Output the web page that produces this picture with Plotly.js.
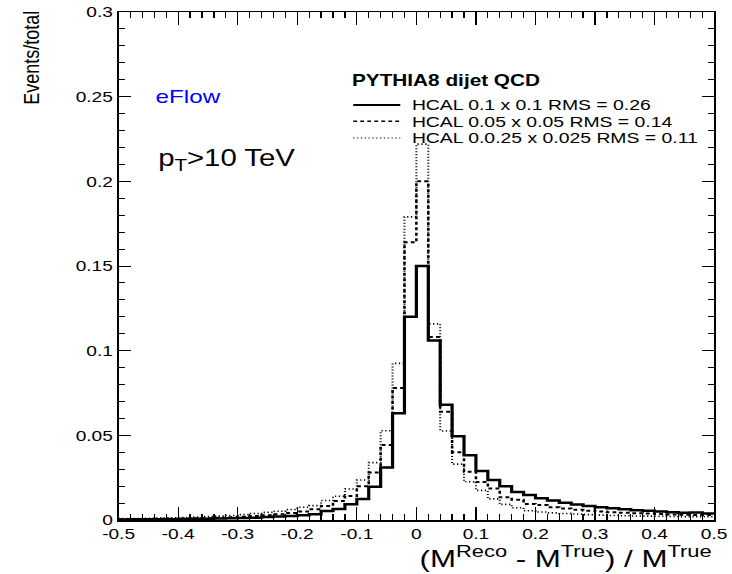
<!DOCTYPE html>
<html>
<head>
<meta charset="utf-8">
<script src="https://cdn.plot.ly/plotly-3.0.1.min.js"></script>
<style>
  html, body { margin: 0; padding: 0; background: #fff; overflow: hidden; }
  /* the canvas is laid out square and stretched horizontally to 732 px */
  #plot { width: 574px; height: 574px; transform: scaleX(1.27526); transform-origin: 0 0; }
</style>
</head>
<body>
<div id="plot"></div>
<script>
// histogram binning: 50 bins of width 0.02 between -0.5 and 0.5 (low edges)
const binLowEdges = [
  -0.50, -0.48, -0.46, -0.44, -0.42, -0.40, -0.38, -0.36, -0.34, -0.32,
  -0.30, -0.28, -0.26, -0.24, -0.22, -0.20, -0.18, -0.16, -0.14, -0.12,
  -0.10, -0.08, -0.06, -0.04, -0.02,  0.00,  0.02,  0.04,  0.06,  0.08,
   0.10,  0.12,  0.14,  0.16,  0.18,  0.20,  0.22,  0.24,  0.26,  0.28,
   0.30,  0.32,  0.34,  0.36,  0.38,  0.40,  0.42,  0.44,  0.46,  0.48
];
const binUpperEdge = 0.50;

// fraction of events per bin, HCAL 0.1 x 0.1
const hcal010 = [
  0.0003, 0.0004, 0.0004, 0.0005, 0.0005, 0.0006, 0.0007, 0.0008, 0.0009, 0.0010,
  0.0012, 0.0014, 0.0017, 0.0020, 0.0024, 0.0028, 0.0034, 0.0053, 0.0065, 0.0093,
  0.0124, 0.0197, 0.0310, 0.0630, 0.1200, 0.1500, 0.1060, 0.0680, 0.0494, 0.0382,
  0.0290, 0.0236, 0.0200, 0.0165, 0.0148, 0.0128, 0.0115, 0.0102, 0.0092, 0.0083,
  0.0075, 0.0069, 0.0063, 0.0058, 0.0054, 0.0050, 0.0046, 0.0043, 0.0045, 0.0038
];
// HCAL 0.05 x 0.05
const hcal005 = [
  0.0005, 0.0005, 0.0006, 0.0007, 0.0008, 0.0009, 0.0010, 0.0011, 0.0013, 0.0016,
  0.0019, 0.0023, 0.0028, 0.0034, 0.0041, 0.0050, 0.0063, 0.0083, 0.0112, 0.0142,
  0.0200, 0.0280, 0.0443, 0.0780, 0.1640, 0.2000, 0.1080, 0.0640, 0.0400, 0.0285,
  0.0224, 0.0186, 0.0135, 0.0120, 0.0095, 0.0088, 0.0075, 0.0068, 0.0060, 0.0055,
  0.0050, 0.0046, 0.0043, 0.0040, 0.0038, 0.0035, 0.0033, 0.0031, 0.0030, 0.0030
];
// HCAL 0.025 x 0.025
const hcal0025 = [
  0.0008, 0.0009, 0.0010, 0.0011, 0.0013, 0.0015, 0.0017, 0.0020, 0.0023, 0.0027,
  0.0032, 0.0038, 0.0045, 0.0052, 0.0062, 0.0075, 0.0085, 0.0115, 0.0140, 0.0183,
  0.0236, 0.0339, 0.0527, 0.0925, 0.1790, 0.2220, 0.1158, 0.0526, 0.0330, 0.0226,
  0.0175, 0.0125, 0.0092, 0.0072, 0.0055, 0.0047, 0.0042, 0.0038, 0.0035, 0.0032,
  0.0029, 0.0027, 0.0025, 0.0024, 0.0023, 0.0022, 0.0021, 0.0020, 0.0020, 0.0019
];

const seriesNames = [
  "HCAL 0.1 x 0.1 RMS = 0.26",
  "HCAL 0.05 x 0.05 RMS = 0.14",
  "HCAL 0.0.25 x 0.025 RMS = 0.11"
];
const seriesValues = [hcal010, hcal005, hcal0025];
const lineStyles = [
  { color: "#000", width: 2.5, dash: "solid" },
  { color: "#000", width: 2.0, dash: "3px,2.5px" },
  { color: "#000", width: 1.6, dash: "1px,2px" }
];

const legendTitle = "PYTHIA8 dijet QCD";
const xTickValues = [-0.5, -0.4, -0.3, -0.2, -0.1, 0, 0.1, 0.2, 0.3, 0.4, 0.5];
const xTickLabels = ["-0.5", "-0.4", "-0.3", "-0.2", "-0.1", "0", "0.1", "0.2", "0.3", "0.4", "0.5"];
const yTickValues = [0, 0.05, 0.1, 0.15, 0.2, 0.25, 0.3];
const yTickLabels = ["0", "0.05", "0.1", "0.15", "0.2", "0.25", "0.3"];

// step outline: every bin edge, the last bin's value repeated at the upper edge
const stepX = binLowEdges.concat([binUpperEdge]);
const traces = seriesValues.map((vals, i) => ({
  type: "scatter",
  mode: "lines",
  x: stepX,
  y: vals.concat([vals[vals.length - 1]]),
  line: Object.assign({ shape: "hv" }, lineStyles[i]),
  name: seriesNames[i],
  hoverinfo: "skip"
}));

const font = "Liberation Sans, Arial, Helvetica, sans-serif";

// hand-drawn legend block (title, line samples, labels)
const legendRowsY = [0.817, 0.785, 0.752];
const legendShapes = lineStyles.map((st, i) => ({
  type: "line", xref: "paper", yref: "paper",
  x0: 0.394, x1: 0.473, y0: legendRowsY[i], y1: legendRowsY[i],
  line: { color: st.color, width: st.width - 0.4, dash: st.dash }
}));
const legendLabels = seriesNames.map((nm, i) => ({
  xref: "paper", yref: "paper", x: 0.488, y: legendRowsY[i],
  xanchor: "left", yanchor: "middle", showarrow: false,
  text: nm, font: { family: font, size: 15.2, color: "#000" }
}));

const annotations = [
  {
    xref: "paper", yref: "paper", x: -0.1476, y: 0.91,
    xanchor: "center", yanchor: "middle", showarrow: false, textangle: -90,
    text: "Events/total", font: { family: font, size: 18, color: "#000" }
  },
  {
    xref: "paper", yref: "paper", x: 1.0, y: -0.072,
    xanchor: "right", yanchor: "middle", showarrow: false,
    text: "(M<sup>Reco</sup> - M<sup>True</sup>) / M<sup>True</sup>",
    font: { family: font, size: 24.5, color: "#000" }
  },
  {
    xref: "paper", yref: "paper", x: 0.0588, y: 0.833,
    xanchor: "left", yanchor: "middle", showarrow: false,
    text: "eFlow", font: { family: font, size: 19, color: "#0000ff" }
  },
  {
    xref: "paper", yref: "paper", x: 0.062, y: 0.709,
    xanchor: "left", yanchor: "middle", showarrow: false,
    text: "p<sub>T</sub>&gt;10 TeV", font: { family: font, size: 23, color: "#000" }
  },
  {
    xref: "paper", yref: "paper", x: 0.3877, y: 0.866,
    xanchor: "left", yanchor: "middle", showarrow: false,
    text: "<b>" + legendTitle + "</b>", font: { family: font, size: 16.3, color: "#000" }
  }
].concat(legendLabels);

const layout = {
  width: 574,
  height: 574,
  margin: { l: 92.5, r: 14.1, t: 12, b: 54, pad: 0 },
  paper_bgcolor: "#fff",
  plot_bgcolor: "#fff",
  showlegend: false,
  font: { family: font, size: 15, color: "#000" },
  xaxis: {
    range: [-0.5, 0.5],
    tickmode: "array", tickvals: xTickValues, ticktext: xTickLabels,
    ticks: "inside", ticklen: 13, tickwidth: 1, tickcolor: "#000",
    minor: { tickmode: "linear", tick0: -0.5, dtick: 0.02, ticks: "inside", ticklen: 6, tickwidth: 1, tickcolor: "#000", showgrid: false },
    showline: true, linecolor: "#000", linewidth: 1.5, mirror: "allticks",
    showgrid: false, zeroline: false,
    tickfont: { family: font, size: 15, color: "#000" }
  },
  yaxis: {
    range: [0, 0.3],
    tickmode: "array", tickvals: yTickValues, ticktext: yTickLabels,
    ticks: "inside", ticklen: 9.5, tickwidth: 1, tickcolor: "#000",
    minor: { tickmode: "linear", tick0: 0, dtick: 0.01, ticks: "inside", ticklen: 4.7, tickwidth: 1, tickcolor: "#000", showgrid: false },
    showline: true, linecolor: "#000", linewidth: 1.5, mirror: "allticks",
    showgrid: false, zeroline: false,
    tickfont: { family: font, size: 15, color: "#000" }
  },
  shapes: legendShapes,
  annotations: annotations
};

Plotly.newPlot("plot", traces, layout, { staticPlot: true, displayModeBar: false, responsive: false });
</script>
</body>
</html>
